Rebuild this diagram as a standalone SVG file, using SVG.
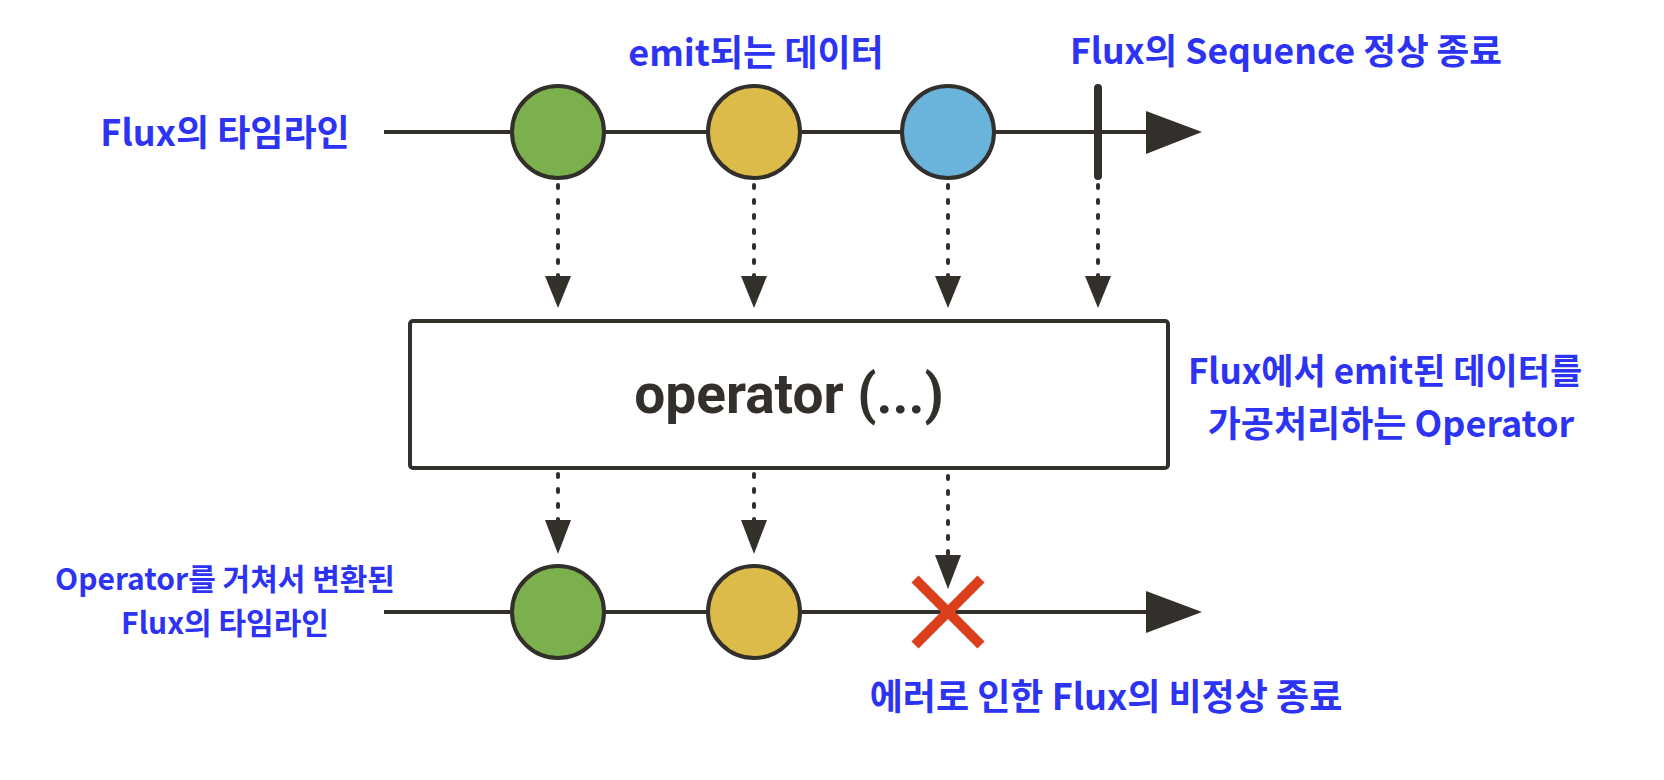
<svg xmlns="http://www.w3.org/2000/svg" width="1664" height="780" viewBox="0 0 1664 780">
  <style>
    .lbl { font-family: "Noto Sans CJK KR", "Noto Sans", sans-serif; font-weight: 700; fill: #2d33f3; text-anchor: middle; }
    .tl { stroke: #33302b; stroke-width: 4; fill: none; }
    .ball { stroke: #33302b; stroke-width: 4; }
    .dot { stroke: #33302b; stroke-width: 4; fill: none; stroke-dasharray: 3 12; stroke-linecap: round; }
    .op { font-family: "Roboto", "DejaVu Sans", sans-serif; font-weight: 700; fill: #33302b; text-anchor: middle; }
  </style>
  <rect width="1664" height="780" fill="#ffffff"/>

  <g id="connectors">
    <!-- top timeline -->
    <line class="tl" x1="384" y1="132" x2="1150" y2="132"/>
    <polygon points="1146,111 1202,132 1146,154" fill="#33302b"/>
    <!-- bottom timeline -->
    <line class="tl" x1="384" y1="612" x2="1150" y2="612"/>
    <polygon points="1146,591 1202,612 1146,633" fill="#33302b"/>
    <!-- top dotted arrows -->
    <line class="dot" x1="558" y1="185" x2="558" y2="280"/>
    <line class="dot" x1="754" y1="185" x2="754" y2="280"/>
    <line class="dot" x1="948" y1="185" x2="948" y2="280"/>
    <line class="dot" x1="1098" y1="185" x2="1098" y2="280"/>
    <path d="M545,276 L571,276 L558,308 Z" fill="#33302b"/>
    <path d="M741,276 L767,276 L754,308 Z" fill="#33302b"/>
    <path d="M935,276 L961,276 L948,308 Z" fill="#33302b"/>
    <path d="M1085,276 L1111,276 L1098,308 Z" fill="#33302b"/>
    <!-- bottom dotted arrows -->
    <line class="dot" x1="558" y1="474" x2="558" y2="522"/>
    <line class="dot" x1="754" y1="474" x2="754" y2="522"/>
    <line class="dot" x1="948" y1="476" x2="948" y2="556"/>
    <path d="M545,520 L571,520 L558,554 Z" fill="#33302b"/>
    <path d="M741,520 L767,520 L754,554 Z" fill="#33302b"/>
    <path d="M935,555 L961,555 L948,589 Z" fill="#33302b"/>
  </g>

  <g id="top-green"><circle class="ball" cx="558" cy="132" r="46" fill="#7cb04c"/></g>
  <g id="top-yellow"><circle class="ball" cx="754" cy="132" r="46" fill="#ddbb4b"/></g>
  <g id="top-blue"><circle class="ball" cx="948" cy="132" r="46" fill="#6ab4dc"/></g>
  <g id="complete-bar"><line x1="1098" y1="88" x2="1098" y2="176" stroke="#33302b" stroke-width="8" stroke-linecap="round"/></g>

  <g id="operator">
    <rect x="410" y="321" width="758" height="147" rx="3" fill="#ffffff" stroke="#33302b" stroke-width="4"/>
    <text class="op" x="789" y="413" font-size="55">operator (...)</text>
  </g>

  <g id="bottom-green"><circle class="ball" cx="558" cy="612" r="46" fill="#7cb04c"/></g>
  <g id="bottom-yellow"><circle class="ball" cx="754" cy="612" r="46" fill="#ddbb4b"/></g>
  <g id="error-x">
    <line x1="915" y1="579" x2="981" y2="645" stroke="#dc3f1c" stroke-width="10"/>
    <line x1="981" y1="579" x2="915" y2="645" stroke="#dc3f1c" stroke-width="10"/>
  </g>

  <g id="labels">
    <text class="lbl" x="225" y="146" font-size="36">Flux의 타임라인</text>
    <text class="lbl" x="756" y="66" font-size="36">emit되는 데이터</text>
    <text class="lbl" x="1286" y="64" font-size="35.5">Flux의 Sequence 정상 종료</text>
    <text class="lbl" x="1385" y="384" font-size="35">Flux에서 emit된 데이터를</text>
    <text class="lbl" x="1391" y="437" font-size="36">가공처리하는 Operator</text>
    <text class="lbl" x="225" y="590" font-size="30">Operator를 거쳐서 변환된</text>
    <text class="lbl" x="225" y="634" font-size="30">Flux의 타임라인</text>
    <text class="lbl" x="1106" y="710" font-size="36">에러로 인한 Flux의 비정상 종료</text>
  </g>
</svg>
